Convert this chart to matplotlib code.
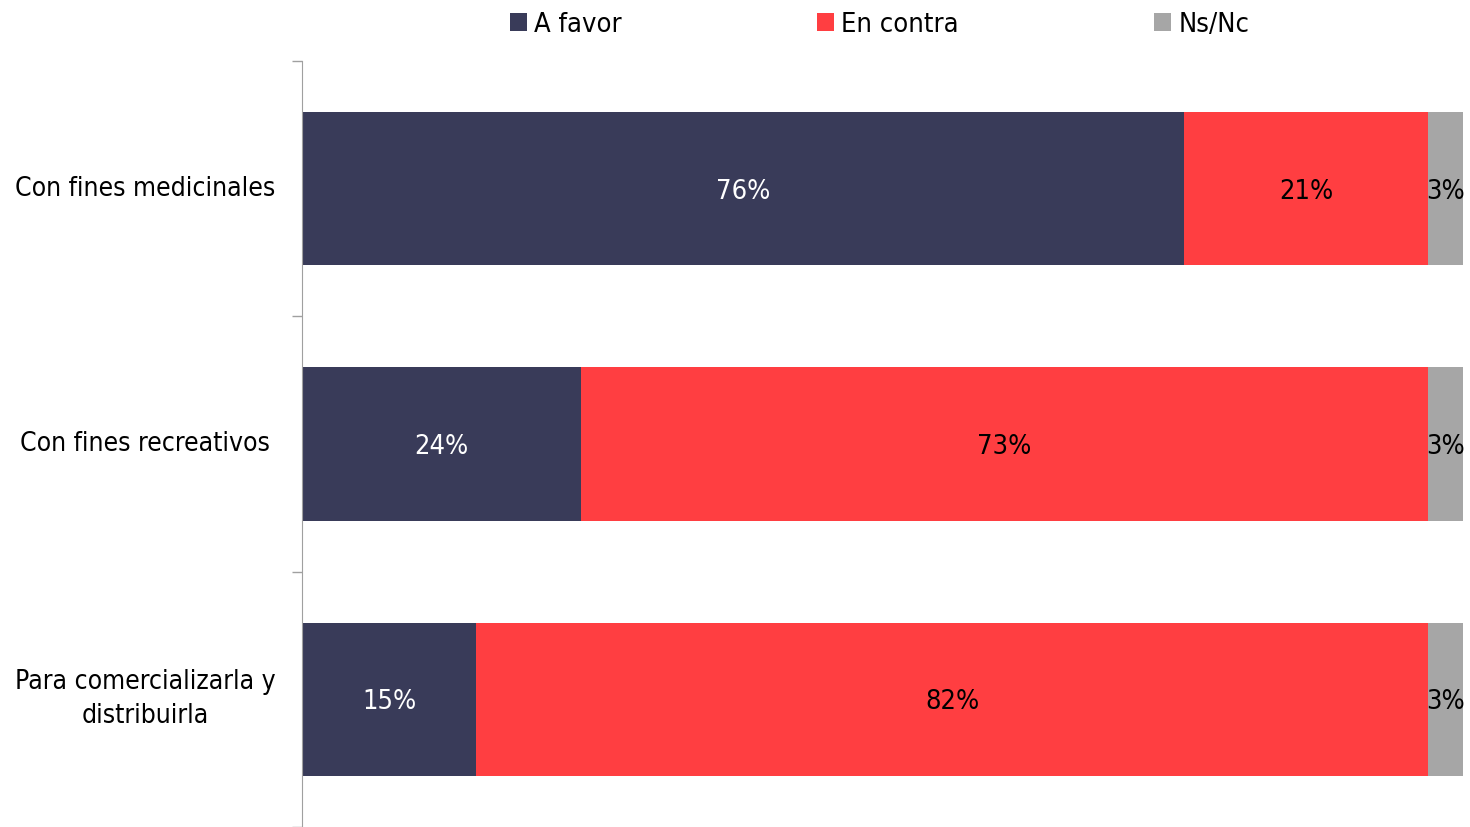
import numpy as np
import matplotlib
matplotlib.use("Agg")
import matplotlib.pyplot as plt

plt.rcParams['font.family'] = ['DejaVu Sans']
plt.rcParams['font.stretch'] = 'condensed'

# Data
categories = ['Con fines medicinales', 'Con fines recreativos', 'Para comercializarla y\ndistribuirla']
a_favor = np.array([76, 24, 15])
en_contra = np.array([21, 73, 82])
ns_nc = np.array([3, 3, 3])
series_names = ['A favor', 'En contra', 'Ns/Nc']

colors = ['#393B59', '#FF3E41', '#A6A6A6']
text_colors = ['white', 'black', 'black']

fig = plt.figure(figsize=(14.7, 8.27), dpi=100)
ax = fig.add_axes([302 / 1470, 0, 1161 / 1470, 1 - 61 / 827])

y = np.arange(len(categories))
left = np.zeros(len(categories))
for vals, name, col, tcol in zip([a_favor, en_contra, ns_nc], series_names, colors, text_colors):
    ax.barh(y, vals, left=left, height=0.6, color=col, label=name)
    for yi, l, v in zip(y, left, vals):
        ax.text(l + v / 2, yi, f'{v}%', ha='center', va='center_baseline', color=tcol, fontsize=19.5)
    left = left + vals

ax.set_xlim(0, 100)
ax.set_ylim(2.5, -0.5)

# category labels
for yi, cat in zip(y, categories):
    ax.text(-13.5, yi, cat, ha='center', va='center', fontsize=19, multialignment='center',
            linespacing=1.4)

ax.set_yticks([])
ax.set_yticks([-0.5, 0.5, 1.5, 2.5], minor=True)
ax.tick_params(axis='y', which='minor', length=7, color='#A0A0A0', width=1)
ax.set_xticks([])
for s in ['top', 'right', 'bottom']:
    ax.spines[s].set_visible(False)
ax.spines['left'].set_color('#A0A0A0')

fig.legend(loc='upper left', bbox_to_anchor=(499 / 1470, 0.999), ncol=3, frameon=False,
           fontsize=19.5, handlelength=0.62, handleheight=0.62, handletextpad=0.28,
           columnspacing=7.2, borderaxespad=0)

plt.savefig('out.png', dpi=100)
